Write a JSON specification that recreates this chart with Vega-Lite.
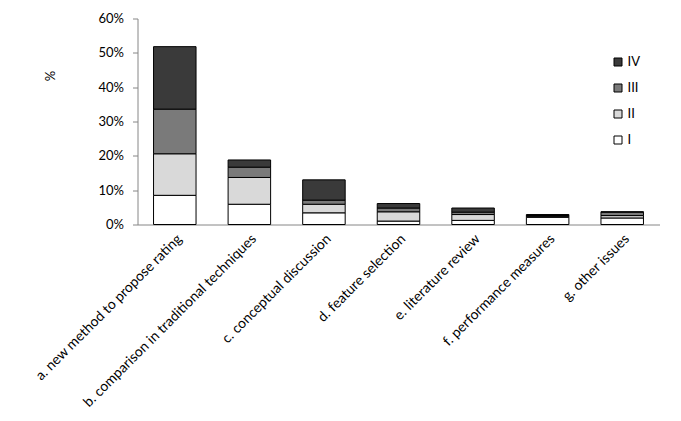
{
  "$schema": "https://vega.github.io/schema/vega-lite/v6.json",
  "autosize": {"type": "none"},
  "width": 522,
  "height": 206,
  "padding": {"left": 137.5, "top": 18.5, "right": 21.5, "bottom": 196.5},
  "background": "white",
  "config": {
    "view": {"stroke": null},
    "font": "Lato",
    "axis": {"labelFont": "Lato", "titleFont": "Lato", "labelColor": "#000000", "titleColor": "#000000"},
    "legend": {"labelFont": "Lato"}
  },
  "data": {
    "values": [
      {"cat": "a. new method to propose rating", "level": "I", "ord": 1, "value": 8.5},
      {"cat": "a. new method to propose rating", "level": "II", "ord": 2, "value": 12.1},
      {"cat": "a. new method to propose rating", "level": "III", "ord": 3, "value": 13.0},
      {"cat": "a. new method to propose rating", "level": "IV", "ord": 4, "value": 18.2},
      {"cat": "b. comparison in traditional techniques", "level": "I", "ord": 1, "value": 5.9},
      {"cat": "b. comparison in traditional techniques", "level": "II", "ord": 2, "value": 7.8},
      {"cat": "b. comparison in traditional techniques", "level": "III", "ord": 3, "value": 3.0},
      {"cat": "b. comparison in traditional techniques", "level": "IV", "ord": 4, "value": 2.1},
      {"cat": "c. conceptual discussion", "level": "I", "ord": 1, "value": 3.4},
      {"cat": "c. conceptual discussion", "level": "II", "ord": 2, "value": 2.5},
      {"cat": "c. conceptual discussion", "level": "III", "ord": 3, "value": 1.2},
      {"cat": "c. conceptual discussion", "level": "IV", "ord": 4, "value": 5.9},
      {"cat": "d. feature selection", "level": "I", "ord": 1, "value": 1.0},
      {"cat": "d. feature selection", "level": "II", "ord": 2, "value": 2.7},
      {"cat": "d. feature selection", "level": "III", "ord": 3, "value": 1.1},
      {"cat": "d. feature selection", "level": "IV", "ord": 4, "value": 1.3},
      {"cat": "e. literature review", "level": "I", "ord": 1, "value": 1.2},
      {"cat": "e. literature review", "level": "II", "ord": 2, "value": 1.7},
      {"cat": "e. literature review", "level": "III", "ord": 3, "value": 0.7},
      {"cat": "e. literature review", "level": "IV", "ord": 4, "value": 1.2},
      {"cat": "f. performance measures", "level": "I", "ord": 1, "value": 2.1},
      {"cat": "f. performance measures", "level": "II", "ord": 2, "value": 0.3},
      {"cat": "f. performance measures", "level": "III", "ord": 3, "value": 0.2},
      {"cat": "f. performance measures", "level": "IV", "ord": 4, "value": 0.3},
      {"cat": "g. other issues", "level": "I", "ord": 1, "value": 1.9},
      {"cat": "g. other issues", "level": "II", "ord": 2, "value": 0.7},
      {"cat": "g. other issues", "level": "III", "ord": 3, "value": 1.0},
      {"cat": "g. other issues", "level": "IV", "ord": 4, "value": 0.1}
    ]
  },
  "mark": {"type": "bar", "stroke": "#000000", "strokeWidth": 1},
  "encoding": {
    "x": {
      "field": "cat",
      "type": "nominal",
      "sort": null,
      "scale": {"paddingInner": 0.43, "paddingOuter": 0.215},
      "axis": {
        "title": null,
        "labelAngle": -45,
        "labelFontSize": 14,
        "labelPadding": 7,
        "ticks": false,
        "domainColor": "#868686",
        "labelLimit": 400
      }
    },
    "y": {
      "field": "value",
      "type": "quantitative",
      "stack": "zero",
      "scale": {"domain": [0, 60], "nice": false},
      "axis": {
        "title": "%",
        "titleAngle": -90,
        "titleFontSize": 13,
        "titleFontWeight": "normal",
        "titleX": -87,
        "titleY": 57,
        "titleAlign": "center",
        "titleBaseline": "middle",
        "values": [0, 10, 20, 30, 40, 50, 60],
        "labelExpr": "datum.value + '%'",
        "labelFontSize": 13,
        "labelPadding": 9,
        "tickSize": 5,
        "tickColor": "#868686",
        "domainColor": "#868686",
        "grid": false
      }
    },
    "order": {"field": "ord", "type": "quantitative"},
    "color": {
      "field": "level",
      "type": "nominal",
      "scale": {"domain": ["I", "II", "III", "IV"], "range": ["#ffffff", "#d9d9d9", "#7a7a7a", "#3a3a3a"]},
      "legend": {
        "title": null,
        "values": ["IV", "III", "II", "I"],
        "orient": "none",
        "legendX": 474,
        "legendY": 37,
        "symbolType": "square",
        "symbolSize": 64,
        "symbolStrokeColor": "#000000",
        "symbolStrokeWidth": 1,
        "labelFontSize": 13,
        "labelColor": "#000000",
        "rowPadding": 12,
        "labelOffset": 3
      }
    }
  }
}
